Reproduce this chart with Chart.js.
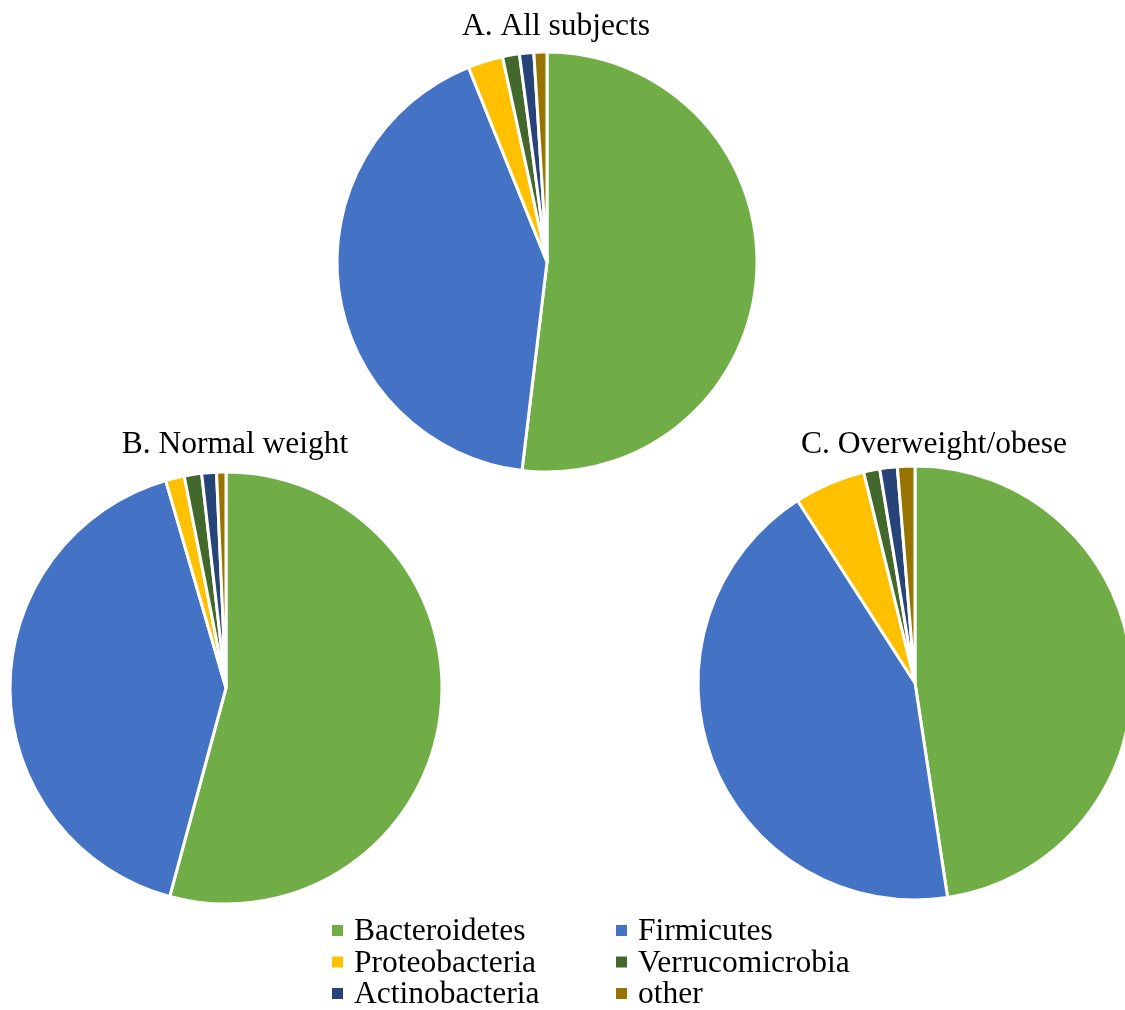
<!DOCTYPE html>
<html>
<head>
<meta charset="utf-8">
<script src="https://cdn.jsdelivr.net/npm/chart.js@4.4.1/dist/chart.umd.min.js"></script>
<style>
  html, body { margin: 0; padding: 0; background: #fff; }
  body { width: 1125px; height: 1010px; position: relative; overflow: hidden; }
  canvas { position: absolute; left: 0; top: 0; }
</style>
</head>
<body>
<canvas id="pieA" width="1125" height="1010"></canvas>
<canvas id="pieB" width="1125" height="1010"></canvas>
<canvas id="pieC" width="1160" height="1010"></canvas>
<script>
// phylum shares (%) per group
const phyla = ["Bacteroidetes", "Firmicutes", "Proteobacteria", "Verrucomicrobia", "Actinobacteria", "other"];
const allSubjects = [51.9, 42.0, 2.7, 1.3, 1.1, 1.0];
const normalWeight = [54.2, 41.3, 1.4, 1.3, 1.1, 0.7];
const overweightObese = [47.6, 43.3, 5.3, 1.2, 1.3, 1.3];
const colors = ["#70AD47", "#4472C4", "#FFC000", "#43682B", "#264478", "#997300"];
const panelTitles = ["A. All subjects", "B. Normal weight", "C. Overweight/obese"];

const serif = "'Liberation Serif', 'Times New Roman', serif";

// titles + shared legend, painted once on the first chart's canvas
const textLayer = {
  id: "textLayer",
  afterDraw(chart) {
    const ctx = chart.ctx;
    ctx.save();
    ctx.fillStyle = "#000";
    ctx.font = "31.5px " + serif;
    ctx.textBaseline = "alphabetic";

    ctx.textAlign = "center";
    const titlePos = [[556, 35], [235, 453], [934, 453]];
    panelTitles.forEach(function (t, i) {
      ctx.fillText(t, titlePos[i][0], titlePos[i][1]);
    });

    ctx.textAlign = "left";
    const colX = [332, 616];
    const rowY = [930.5, 962, 993.5];
    phyla.forEach(function (name, i) {
      const x = colX[i % 2];
      const y = rowY[Math.floor(i / 2)];
      ctx.fillStyle = colors[i];
      ctx.fillRect(x, y - 5.5, 11, 11);
      ctx.fillStyle = "#000";
      ctx.fillText(name, x + 22, y + 9.5);
    });
    ctx.restore();
  }
};

function makePie(id, values, cx, cy, r, extra) {
  const cv = document.getElementById(id);
  const half = r + 10;
  return new Chart(cv, {
    type: "pie",
    data: {
      labels: phyla,
      datasets: [{
        data: values,
        backgroundColor: colors,
        borderColor: "#ffffff",
        borderWidth: 3
      }]
    },
    options: {
      responsive: false,
      animation: false,
      devicePixelRatio: 1,
      radius: r,
      layout: {
        padding: {
          left: cx - half,
          right: cv.width - cx - half,
          top: cy - half,
          bottom: cv.height - cy - half
        }
      },
      plugins: { legend: { display: false }, tooltip: { enabled: false } }
    },
    plugins: extra || []
  });
}

makePie("pieA", allSubjects, 547, 262, 210, [textLayer]);
makePie("pieB", normalWeight, 226, 688, 216);
makePie("pieC", overweightObese, 915, 683, 217);
</script>
</body>
</html>
